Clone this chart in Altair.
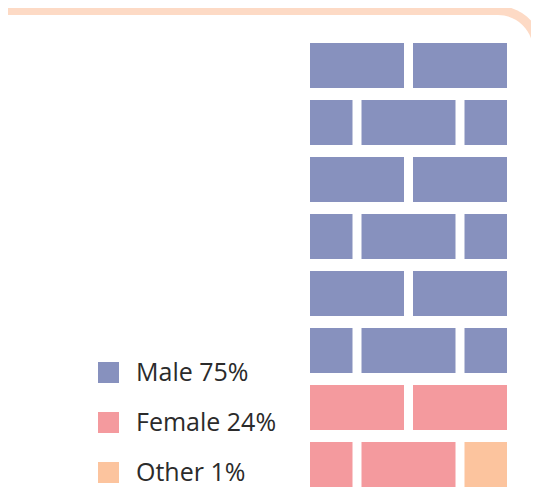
import altair as alt
import pandas as pd

# ---- data -------------------------------------------------------------
labels = ["Male 75%", "Female 24%", "Other 1%"]
colors = ["#8791BE", "#F49A9E", "#FCC49E"]

# brick layouts in half-brick units (start, end)
FULL = [(0, 2), (2, 4)]
OFFSET = [(0, 1), (1, 3), (3, 4)]
row_layouts = [FULL, OFFSET, FULL, OFFSET, FULL, OFFSET, FULL, OFFSET]
row_categories = [
    ["Male 75%", "Male 75%"],
    ["Male 75%", "Male 75%", "Male 75%"],
    ["Male 75%", "Male 75%"],
    ["Male 75%", "Male 75%", "Male 75%"],
    ["Male 75%", "Male 75%"],
    ["Male 75%", "Male 75%", "Male 75%"],
    ["Female 24%", "Female 24%"],
    ["Female 24%", "Female 24%", "Other 1%"],
]

GAP_X = 9 / 51.5    # horizontal gap as fraction of a half-brick unit
H_FRAC = 45 / 57    # brick height as fraction of a row pitch

records = []
for r, (layout, cats) in enumerate(zip(row_layouts, row_categories)):
    for (s, e), c in zip(layout, cats):
        records.append({"x0": s, "x1": e - GAP_X, "y0": r, "y1": r + H_FRAC, "label": c})
df = pd.DataFrame(records)

PEACH = "#FDDAC5"
one = alt.Data(values=[{"k": 1}])

frame_outer = alt.Chart(one).mark_rect(
    color=PEACH, cornerRadiusTopRight=45
).encode(x=alt.value(-320), x2=alt.value(233), y=alt.value(-37), y2=alt.value(480))

frame_inner = alt.Chart(one).mark_rect(
    color="white", cornerRadiusTopRight=35, cornerRadiusBottomRight=22
).encode(x=alt.value(-303), x2=alt.value(223), y=alt.value(-28), y2=alt.value(470))

bricks = alt.Chart(df).mark_rect().encode(
    x=alt.X("x0:Q", scale=alt.Scale(domain=[0, 4 - GAP_X], nice=False, zero=False), axis=None),
    x2="x1:Q",
    y=alt.Y("y0:Q", scale=alt.Scale(domain=[0, 7 + H_FRAC], nice=False, reverse=True), axis=None),
    y2="y1:Q",
    color=alt.Color(
        "label:N",
        scale=alt.Scale(domain=labels, range=colors),
        legend=alt.Legend(
            orient="none", legendX=-214, legendY=317, title=None,
            symbolType="square", symbolSize=441, symbolStrokeWidth=0,
            symbolOpacity=1, labelFontSize=25, labelFont="Open Sans",
            labelColor="#2b2b2b", labelOffset=15, rowPadding=24,
            direction="vertical",
        ),
    ),
)

chart = alt.layer(frame_outer, frame_inner, bricks).properties(
    width=197, height=444,
    autosize=alt.AutoSizeParams(type="none"),
    padding={"left": 302, "top": 35, "right": 24, "bottom": 5},
).configure_view(stroke=None)

chart.save("out.html", embed_options={"renderer": "svg", "actions": False})
